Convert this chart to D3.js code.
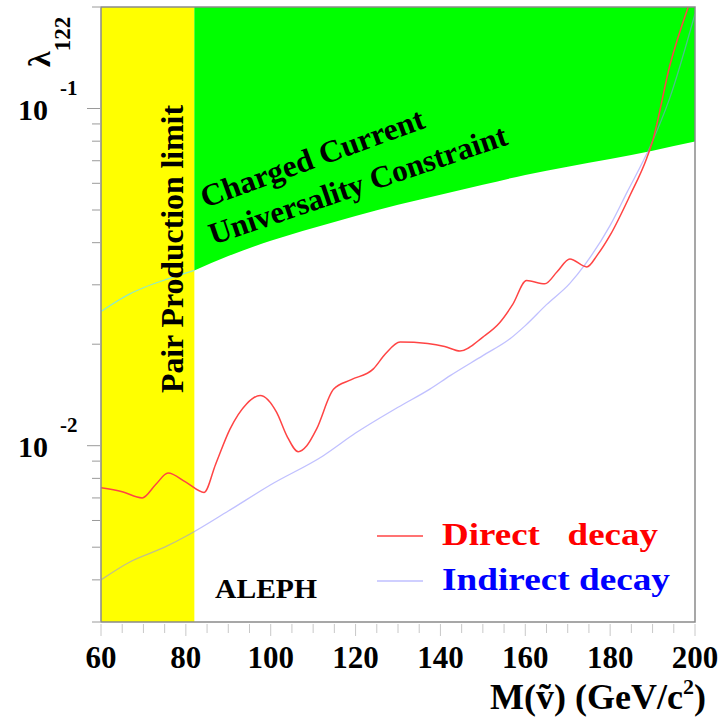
<!DOCTYPE html>
<html>
<head>
<meta charset="utf-8">
<script src="https://cdn.jsdelivr.net/npm/d3@7"></script>
<style>
  body { margin: 0; background: #fff; }
  svg text { font-family: "Liberation Serif", "Times New Roman", serif; font-weight: bold; }
</style>
</head>
<body>
<div id="chart"></div>
<script>
// Sneutrino mass limits on lambda_122 (ALEPH)
var
  // direct decay limit (red)
  massDirect = [60, 65, 69.7, 73, 75.8, 80, 84.3, 87, 90.4, 94.3, 97.5, 101.4, 103.8, 106.5, 108.5, 110.8, 114.8, 119, 124.2, 127, 130.5, 137, 141, 144.6, 150, 154, 157, 160.3, 164.6, 167.5, 170.5, 174.5, 177, 180, 184.7, 188.6, 190, 194.1, 198.4],
  lambdaDirect = [0.0075, 0.0073, 0.0070, 0.0077, 0.0083, 0.0078, 0.00727, 0.0088, 0.0112, 0.0133, 0.0141, 0.01256, 0.0107, 0.0096, 0.0100, 0.0112, 0.0147, 0.0157, 0.0169, 0.0187, 0.0203, 0.0201, 0.0197, 0.0191, 0.0210, 0.0232, 0.0262, 0.0309, 0.0302, 0.0328, 0.0358, 0.0339, 0.0368, 0.0421, 0.0553, 0.0711, 0.0800, 0.1346, 0.2],
  // indirect decay limit (blue)
  massIndirect = [60, 66.8, 75, 81, 90, 100, 112.4, 120, 130, 137.5, 142.3, 150, 156.4, 160, 165, 170.5, 174.1, 180, 184, 189.4, 194, 200],
  lambdaIndirect = [0.0040, 0.00452, 0.0050, 0.00547, 0.0064, 0.00766, 0.00934, 0.0109, 0.0130, 0.01472, 0.01614, 0.0185, 0.02075, 0.0227, 0.0262, 0.0303, 0.0345, 0.0450, 0.0565, 0.0770, 0.107, 0.191],
  // charged current universality constraint
  massConstraint = [60, 66.8, 70, 76, 82, 90, 100, 110, 120, 130, 140, 150, 160, 170, 180, 190, 200],
  lambdaConstraint = [0.0250, 0.0282, 0.0294, 0.0313, 0.0331, 0.0365, 0.0405, 0.0442, 0.0480, 0.0518, 0.0555, 0.0594, 0.0635, 0.0672, 0.0708, 0.0750, 0.0798],
  // pair production limit
  pairLimit = 82,
  xTicks = [60, 80, 100, 120, 140, 160, 180, 200],
  yMajor = [0.1, 0.01],
  yExponents = ["-1", "-2"];

var width = 722,
    height = 717,
    margin = {top: 7, right: 27, bottom: 95, left: 101},
    plotW = width - margin.left - margin.right,
    plotH = height - margin.top - margin.bottom;

var svg = d3.select('#chart').append('svg')
  .attr('width', width)
  .attr('height', height);

var x = d3.scaleLinear().domain([60, 200]).range([0, plotW]);
var y = d3.scaleLog().domain([0.003, 0.2]).range([plotH, 0]);

function pts(xs, ys) {
  return xs.map(function(d, i) { return [d, ys[i]]; });
}

// text with a fixed drawn length
function label(sel, txt, size, len) {
  return sel.append('text')
    .attr('font-size', size)
    .attr('textLength', len)
    .attr('lengthAdjust', 'spacingAndGlyphs')
    .text(txt);
}

var g = svg.append('g').attr('transform', 'translate(' + margin.left + ',' + margin.top + ')');

svg.append('defs').append('clipPath').attr('id', 'plot')
  .append('rect').attr('width', plotW).attr('height', plotH);

var plot = g.append('g').attr('clip-path', 'url(#plot)');

// yellow band: excluded by pair production
plot.append('rect')
  .attr('x', x(60))
  .attr('y', 0)
  .attr('width', x(pairLimit) - x(60))
  .attr('height', plotH)
  .attr('fill', '#ffff00');

// green band above the constraint
var constraint = pts(massConstraint, lambdaConstraint);
var upper = constraint.filter(function(d) { return d[0] >= pairLimit; });
var area = d3.area()
  .x(function(d) { return x(d[0]); })
  .y0(0)
  .y1(function(d) { return y(d[1]); })
  .curve(d3.curveMonotoneX);
plot.append('path')
  .datum(upper)
  .attr('d', area)
  .attr('fill', '#00ff00');

var line = d3.line()
  .x(function(d) { return x(d[0]); })
  .y(function(d) { return y(d[1]); })
  .curve(d3.curveMonotoneX);

plot.append('path')
  .datum(constraint.filter(function(d) { return d[0] <= pairLimit; }))
  .attr('d', line)
  .attr('fill', 'none')
  .attr('stroke', '#8fe8c8')
  .attr('stroke-width', 1.2);

plot.append('path')
  .datum(pts(massIndirect, lambdaIndirect))
  .attr('d', line)
  .attr('fill', 'none')
  .attr('stroke', '#8c8cff')
  .attr('stroke-opacity', 0.55)
  .attr('stroke-width', 1.3);

plot.append('path')
  .datum(pts(massDirect, lambdaDirect))
  .attr('d', line)
  .attr('fill', 'none')
  .attr('stroke', '#ff4444')
  .attr('stroke-width', 1.5);

// frame
g.append('rect')
  .attr('width', plotW)
  .attr('height', plotH)
  .attr('fill', 'none')
  .attr('stroke', '#8a8a8a')
  .attr('stroke-width', 1.5);

// x ticks (outside, below)
var xMinor = d3.range(60, 201, 5);
g.selectAll('.xtick').data(xMinor).enter().append('line')
  .attr('x1', function(d) { return x(d); })
  .attr('x2', function(d) { return x(d); })
  .attr('y1', plotH + 2)
  .attr('y2', function(d) { return plotH + (d % 20 === 0 ? 14 : 11); })
  .attr('stroke', '#c8c8c8')
  .attr('stroke-width', 1);

g.selectAll('.xlabel').data(xTicks).enter().append('text')
  .attr('x', function(d) { return x(d); })
  .attr('y', plotH + 46)
  .attr('text-anchor', 'middle')
  .attr('font-size', 31)
  .text(function(d) { return d; });

// y ticks (outside, left)
var yMinor = [];
[0.001, 0.01, 0.1].forEach(function(dec) {
  for (var k = 1; k <= 9; k++) {
    var v = dec * k;
    if (v >= 0.003 && v <= 0.2001) yMinor.push(v);
  }
});
g.selectAll('.ytick').data(yMinor).enter().append('line')
  .attr('x1', -1)
  .attr('x2', function(d) { return yMajor.indexOf(d) >= 0 ? -14 : -9; })
  .attr('y1', function(d) { return y(d); })
  .attr('y2', function(d) { return y(d); })
  .attr('stroke', '#9a9a9a')
  .attr('stroke-width', 1);

yMajor.forEach(function(v, i) {
  g.append('text')
    .attr('x', -53)
    .attr('y', y(v) + 11)
    .attr('text-anchor', 'end')
    .attr('font-size', 30)
    .text('10');
  g.append('text')
    .attr('x', -41)
    .attr('y', y(v) - 14)
    .attr('font-size', 21)
    .text(yExponents[i]);
});

// y axis title
var yTitle = svg.append('text')
  .attr('transform', 'translate(50,67) rotate(-90)')
  .attr('font-size', 32);
yTitle.append('tspan').text('\u03bb');
yTitle.append('tspan').attr('dy', 20).attr('font-size', 23).text('122');

// x axis title
var xTitle = svg.append('text')
  .attr('x', 706)
  .attr('y', 709)
  .attr('text-anchor', 'end')
  .attr('font-size', 36);
xTitle.append('tspan').text('M(\u1e7d) (GeV/c');
xTitle.append('tspan').attr('dy', -15).attr('font-size', 22).text('2');
xTitle.append('tspan').attr('dy', 15).text(')');

// band labels
label(g, 'Pair Production limit', 31, 288)
  .attr('transform', 'translate(' + (x(pairLimit) - 11) + ',' + 386 + ') rotate(-90)');

label(g, 'Charged Current', 31, 236)
  .attr('transform', 'translate(' + 104 + ',' + 201 + ') rotate(-20)');
label(g, 'Universality Constraint', 31, 313)
  .attr('transform', 'translate(' + 112 + ',' + 238 + ') rotate(-18.8)');

label(g, 'ALEPH', 28, 102)
  .attr('x', 114)
  .attr('y', 591);

// legend
var legend = [
  {label: 'Direct\u00a0\u00a0\u00a0decay', len: 216, color: '#ff0000', line: '#ff4444', op: 1},
  {label: 'Indirect decay', len: 228, color: '#0000ff', line: '#8c8cff', op: 0.55}
];
var lg = g.selectAll('.legend').data(legend).enter().append('g')
  .attr('transform', function(d, i) { return 'translate(276,' + (529 + i * 45) + ')'; });
lg.append('line')
  .attr('x1', 0).attr('x2', 46)
  .attr('stroke', function(d) { return d.line; })
  .attr('stroke-opacity', function(d) { return d.op; })
  .attr('stroke-width', 1.5);
lg.append('text')
  .attr('x', 65)
  .attr('y', 9)
  .attr('font-size', 32)
  .attr('textLength', function(d) { return d.len; })
  .attr('lengthAdjust', 'spacingAndGlyphs')
  .attr('fill', function(d) { return d.color; })
  .text(function(d) { return d.label; });
</script>
</body>
</html>
